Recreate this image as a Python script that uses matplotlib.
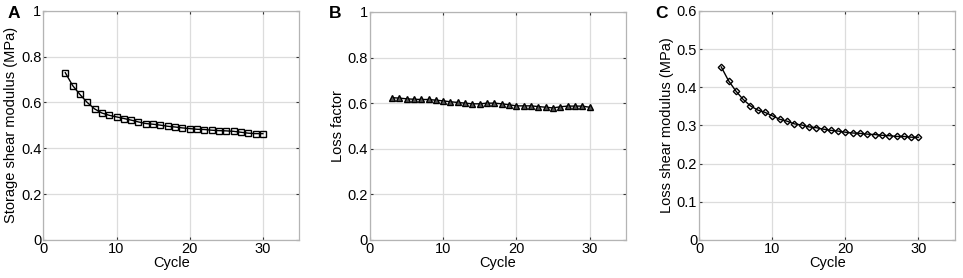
import matplotlib
matplotlib.use("Agg")
import matplotlib.pyplot as plt

plt.rcParams['font.family'] = ['Liberation Sans', 'DejaVu Sans']

cycles = list(range(3, 31))
storage = [0.730, 0.674, 0.635, 0.600, 0.572, 0.554, 0.544, 0.537, 0.530, 0.523,
           0.515, 0.508, 0.505, 0.501, 0.496, 0.493, 0.489, 0.486, 0.483, 0.482,
           0.479, 0.477, 0.476, 0.474, 0.470, 0.466, 0.464, 0.464]
loss_factor = [0.624, 0.622, 0.619, 0.617, 0.616, 0.616, 0.613, 0.610, 0.606, 0.603,
               0.600, 0.597, 0.597, 0.600, 0.600, 0.597, 0.593, 0.588, 0.588, 0.588,
               0.585, 0.582, 0.579, 0.584, 0.587, 0.587, 0.587, 0.582]
loss_modulus = [0.453, 0.417, 0.390, 0.368, 0.351, 0.340, 0.334, 0.325, 0.316, 0.311,
                0.304, 0.301, 0.296, 0.294, 0.290, 0.287, 0.285, 0.282, 0.280, 0.279,
                0.277, 0.276, 0.274, 0.273, 0.271, 0.271, 0.269, 0.269]

x_ticks = [0, 10, 20, 30]
y_ticks_ab = [0, 0.2, 0.4, 0.6, 0.8, 1]
y_labels_ab = ['0', '0.2', '0.4', '0.6', '0.8', '1']
y_ticks_c = [0, 0.1, 0.2, 0.3, 0.4, 0.5, 0.6]
y_labels_c = ['0', '0.1', '0.2', '0.3', '0.4', '0.5', '0.6']

fig = plt.figure(figsize=(9.63, 2.78), dpi=100)

specs = [
    dict(rect=[0.045, 0.137, 0.266, 0.824], y=storage, marker='s', mfc='none', ms=4.2,
         ylabel='Storage shear modulus (MPa)', yt=y_ticks_ab, yl=y_labels_ab, ylim=1.0,
         tag='A', tagx=0.008),
    dict(rect=[0.3842, 0.137, 0.266, 0.82], y=loss_factor, marker='^', mfc='#555555', ms=5,
         ylabel='Loss factor', yt=y_ticks_ab, yl=y_labels_ab, ylim=1.0,
         tag='B', tagx=0.342),
    dict(rect=[0.7262, 0.137, 0.2655, 0.824], y=loss_modulus, marker='D', mfc='none', ms=3.3,
         ylabel='Loss shear modulus (MPa)', yt=y_ticks_c, yl=y_labels_c, ylim=0.6,
         tag='C', tagx=0.680),
]

for s in specs:
    ax = fig.add_axes(s['rect'])
    ax.plot(cycles, s['y'], color='black', lw=1.0, marker=s['marker'],
            mfc=s['mfc'], mec='black', ms=s['ms'], mew=1.0)
    ax.set_xlim(0, 35)
    ax.set_ylim(0, s['ylim'])
    ax.set_xticks(x_ticks)
    ax.set_yticks(s['yt'])
    ax.set_yticklabels(s['yl'])
    ax.grid(True, color='#dcdcdc', lw=0.9)
    ax.set_axisbelow(True)
    for sp in ax.spines.values():
        sp.set_color('#b4b4b4')
        sp.set_linewidth(0.9)
    ax.tick_params(direction='in', length=2.5, width=0.8, color='#333333',
                   top=True, right=True, labelsize=10.5, pad=1.5)
    ax.set_xlabel('Cycle', fontsize=10.5, labelpad=0)
    ax.set_ylabel(s['ylabel'], fontsize=10.5, labelpad=2)
    fig.text(s['tagx'], 0.95, s['tag'], fontsize=12.5, fontweight='bold',
             ha='left', va='center')

fig.savefig('out.png', dpi=100)
